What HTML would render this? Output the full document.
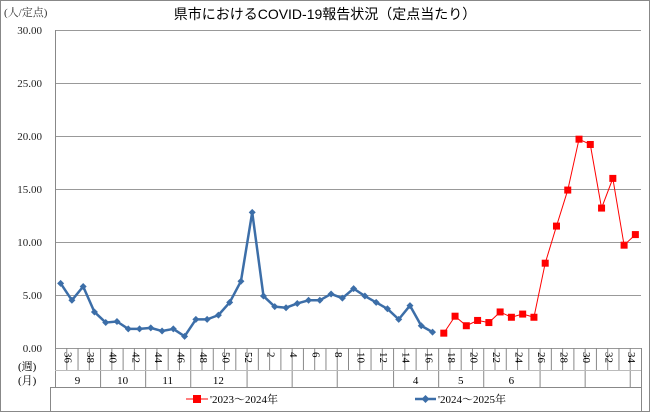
<!DOCTYPE html>
<html><head><meta charset="utf-8">
<style>
body{margin:0;background:#fff;}
svg{display:block;font-family:"Liberation Serif","Noto Serif CJK SC",serif;}
</style></head>
<body>
<svg id="chart" width="650" height="412" viewBox="0 0 650 412" xmlns="http://www.w3.org/2000/svg">
<rect x="0.5" y="0.5" width="649" height="411" fill="#fff" stroke="#888"/>
<text x="325" y="19" text-anchor="middle" font-size="14" font-family="Liberation Sans, Noto Sans CJK JP, sans-serif">県市におけるCOVID-19報告状況（定点当たり）</text>
<text x="4" y="16" font-size="11" fill="#333" font-family="Liberation Serif, Noto Serif CJK SC, serif">(人/定点)</text>
<g id="grid"></g>
<g id="axes"></g>
<g id="series"></g>
<rect x="50.5" y="387.5" width="591" height="30" fill="none" stroke="#888"/>
<g>
<line x1="186" y1="399" x2="208" y2="399" stroke="#f00" stroke-width="1"/>
<rect x="193" y="395" width="8" height="8" fill="#f00"/>
<text x="210" y="403" font-size="11" font-family="Liberation Serif, Noto Serif CJK JP, serif">'2023～2024年</text>
</g>
<g>
<line x1="415" y1="399" x2="436" y2="399" stroke="#3c6ea8" stroke-width="2.5"/>
<path d="M425.5 395 L429.5 399 L425.5 403 L421.5 399Z" fill="#3c6ea8"/>
<text x="438" y="403" font-size="11" font-family="Liberation Serif, Noto Serif CJK JP, serif">'2024～2025年</text>
</g>
</svg>
<script>
const weeks=[36,37,38,39,40,41,42,43,44,45,46,47,48,49,50,51,52,1,2,3,4,5,6,7,8,9,10,11,12,13,14,15,16,17,18,19,20,21,22,23,24,25,26,27,28,29,30,31,32,33,34,35];
const series2024=[6.1,4.5,5.8,3.4,2.4,2.5,1.8,1.8,1.9,1.6,1.8,1.1,2.7,2.7,3.1,4.3,6.3,12.8,4.9,3.9,3.8,4.2,4.5,4.5,5.1,4.7,5.6,4.9,4.3,3.7,2.7,4.0,2.1,1.5];
const series2023=[null,null,null,null,null,null,null,null,null,null,null,null,null,null,null,null,null,null,null,null,null,null,null,null,null,null,null,null,null,null,null,null,null,null,1.4,3.0,2.1,2.6,2.4,3.4,2.9,3.2,2.9,8.0,11.5,14.9,19.7,19.2,13.2,16.0,9.7,10.7];
const yTicks=[0,5,10,15,20,25,30];
const yTickLabels=["0.00","5.00","10.00","15.00","20.00","25.00","30.00"];
const monthBoundaries=[4,8,12,17,21,25,30,34,38,43,47,51];
const monthLabels=[["9",0,4],["10",4,8],["11",8,12],["12",12,17],["4",30,34],["5",34,38],["6",38,43]];

const NS="http://www.w3.org/2000/svg";
const X0=55,X1=641,Y0=348,Y1=30,YMAX=30;
const cw=(X1-X0)/weeks.length;
const xb=i=>X0+i*cw;
const xc=i=>X0+(i+0.5)*cw;
const y=v=>Y0-(v/YMAX)*(Y0-Y1);
function mk(tag,attrs,parent){const e=document.createElementNS(NS,tag);for(const k in attrs)e.setAttribute(k,attrs[k]);parent.appendChild(e);return e;}
const grid=document.getElementById('grid'),axes=document.getElementById('axes'),ser=document.getElementById('series');
yTicks.forEach((t,i)=>{
  const l=mk('line',{x1:X0,x2:X1,y1:y(t)+0.5,y2:y(t)+0.5,stroke:'#999','stroke-width':1},grid);
  
  
  const tx=mk('text',{x:42,y:y(t)+4,'text-anchor':'end','font-size':11,fill:'#222'},axes);
  tx.textContent=yTickLabels[i];
  
  
});
const ya=mk('line',{x1:X0+0.5,x2:X0+0.5,y1:Y1,y2:388,stroke:'#888'},axes);


for(let i=1;i<=weeks.length;i++){
  const major=monthBoundaries.includes(i)||i===weeks.length;
  const l=mk('line',{x1:xb(i)+0.5,x2:xb(i)+0.5,y1:Y0,y2:major?388:370,stroke:'#888'},axes);
  
  
}
const hl=mk('line',{x1:X0,x2:X1,y1:370.5,y2:370.5,stroke:'#bbb'},axes);


weeks.forEach((w,i)=>{
  if(w%2!==0)return;
  const cx=xc(i)+4,cy=352;
  const t=mk('text',{x:cx,y:cy,'font-size':11,transform:`rotate(90 ${cx} ${cy})`},axes);
  t.textContent=w;
  
  
});
monthLabels.forEach(m=>{
  const t=mk('text',{x:(xb(m[1])+xb(m[2]))/2,y:384,'text-anchor':'middle','font-size':11},axes);
  t.textContent=m[0];
  
  
});
const wl=mk('text',{x:18,y:370,'font-size':11},axes);wl.textContent='(週)';


const ml=mk('text',{x:18,y:384,'font-size':11},axes);ml.textContent='(月)';



function path(vals){let d='',pen=false;vals.forEach((v,i)=>{if(v==null){pen=false;return;}d+=(pen?'L':'M')+xc(i)+' '+y(v)+' ';pen=true;});return d;}
const p23=mk('path',{d:path(series2023),fill:'none',stroke:'#f00','stroke-width':1},ser);


series2023.forEach((v,i)=>{if(v==null)return;
  const r=mk('rect',{x:xc(i)-3.5,y:y(v)-3.5,width:7,height:7,fill:'#f00'},ser);
  
  
});
const p24=mk('path',{d:path(series2024),fill:'none',stroke:'#3c6ea8','stroke-width':2.5,'stroke-linejoin':'round'},ser);


series2024.forEach((v,i)=>{
  const cx=xc(i),cy=y(v);
  const r=mk('path',{d:`M${cx} ${cy-3.5}L${cx+3.5} ${cy}L${cx} ${cy+3.5}L${cx-3.5} ${cy}Z`,fill:'#3c6ea8'},ser);
  
  
});
</script>
</body></html>
